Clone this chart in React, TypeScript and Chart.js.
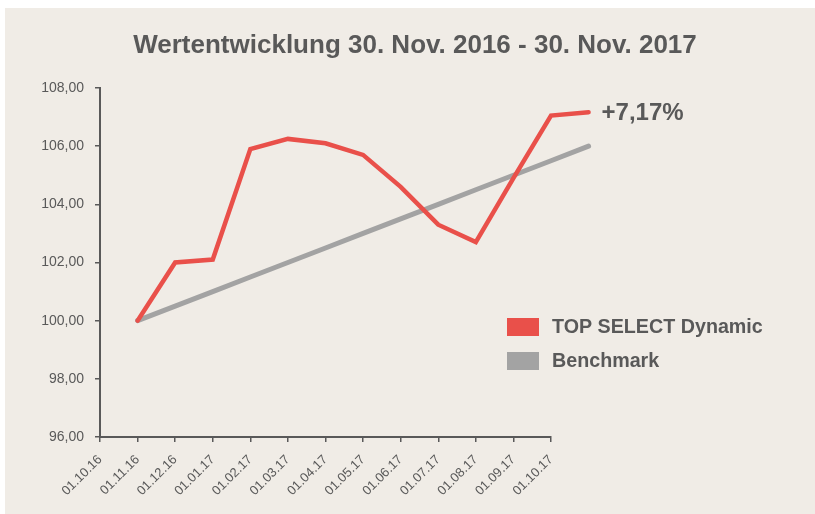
import React, { useEffect, useRef } from "react";
import { Chart, registerables } from "chart.js";

Chart.register(...registerables);

const chartTitle = "Wertentwicklung 30. Nov. 2016 - 30. Nov. 2017";
const tickLabels = [
  "01.10.16", "01.11.16", "01.12.16", "01.01.17", "01.02.17", "01.03.17", "01.04.17",
  "01.05.17", "01.06.17", "01.07.17", "01.08.17", "01.09.17", "01.10.17",
];
// x positions (months after 01.10.16)
const pointPositions = [1, 2, 3, 4, 5, 6, 7, 8, 9, 10, 11, 12, 13];
const dynamicValues = [100.0, 102.0, 102.1, 105.9, 106.25, 106.1, 105.7, 104.6, 103.3, 102.7, 104.9, 107.05, 107.17];
const benchmarkValues = [100.0, 100.5, 101.0, 101.5, 102.0, 102.5, 103.0, 103.5, 104.0, 104.5, 105.0, 105.5, 106.0];
const seriesNames = ["TOP SELECT Dynamic", "Benchmark"];
const endLabel = "+7,17%";
const yMin = 96;
const yMax = 108;
const yStep = 2;

const RED = "#E9504A";
const GRAY = "#A3A3A3";
const TEXT = "#595959";
const BG = "#F0ECE6";
const FONT = "'Liberation Sans', Arial, sans-serif";

export default function App() {
  const ref = useRef<HTMLCanvasElement | null>(null);

  useEffect(() => {
    const canvas = ref.current;
    if (!canvas) return;

    const overlay = {
      id: "overlay",
      afterDraw(chart: any) {
        const ctx = chart.ctx;
        ctx.save();
        // title
        ctx.fillStyle = TEXT;
        ctx.font = `bold 26px ${FONT}`;
        ctx.textAlign = "center";
        ctx.textBaseline = "middle";
        ctx.fillText(chartTitle, 410, 38);

        // end label next to last point
        const meta = chart.getDatasetMeta(0);
        const last = meta.data[meta.data.length - 1];
        ctx.font = `bold 24px ${FONT}`;
        ctx.textAlign = "left";
        ctx.fillText(endLabel, last.x + 13, last.y + 1);

        // legend
        const colors = [RED, GRAY];
        const ys = [319, 353];
        ctx.font = `bold 19.7px ${FONT}`;
        seriesNames.forEach((name, i) => {
          ctx.fillStyle = colors[i];
          ctx.fillRect(502, ys[i] - 9, 32, 18);
          ctx.fillStyle = TEXT;
          ctx.fillText(name, 547, ys[i] + 1);
        });
        ctx.restore();
      },
    };

    const chart = new Chart(canvas, {
      type: "line",
      data: {
        datasets: [
          {
            label: seriesNames[0],
            data: pointPositions.map((x, i) => ({ x, y: dynamicValues[i] })),
            borderColor: RED,
            backgroundColor: RED,
            borderWidth: 4.5,
            pointRadius: 0,
            borderCapStyle: "round",
            borderJoinStyle: "miter",
            clip: false as any,
            tension: 0,
          },
          {
            label: seriesNames[1],
            data: pointPositions.map((x, i) => ({ x, y: benchmarkValues[i] })),
            borderColor: GRAY,
            backgroundColor: GRAY,
            borderWidth: 5,
            pointRadius: 0,
            borderCapStyle: "round",
            clip: false as any,
            tension: 0,
          },
        ],
      },
      options: {
        animation: false,
        responsive: false,
        layout: { padding: { top: 80, right: 264, left: 0, bottom: 0 } },
        plugins: {
          legend: { display: false },
          title: { display: false },
          tooltip: { enabled: false },
        },
        scales: {
          x: {
            type: "linear",
            afterDataLimits: (s: any) => {
              s.min = 0;
              s.max = tickLabels.length - 1;
            },
            afterFit: (s: any) => { s.height = 77; },
            afterBuildTicks: (s: any) => {
              s.ticks = tickLabels.map((_, i) => ({ value: i }));
              s.min = 0;
              s.max = tickLabels.length - 1;
            },
            ticks: {
              stepSize: 1,
              autoSkip: false,
              maxRotation: 45,
              minRotation: 45,
              padding: 10,
              color: TEXT,
              font: { family: FONT, size: 13 },
              callback: (v: any) => tickLabels[Math.round(Number(v))] ?? "",
            },
            grid: {
              display: true,
              drawOnChartArea: false,
              drawTicks: true,
              tickLength: 5,
              color: TEXT,
              lineWidth: 1.5,
            },
            border: { display: true, color: TEXT, width: 2 },
          },
          y: {
            min: yMin,
            max: yMax,
            afterFit: (s: any) => { s.width = 95; },
            ticks: {
              stepSize: yStep,
              padding: 11,
              color: TEXT,
              font: { family: FONT, size: 14 },
              callback: (v: any) => Number(v).toFixed(2).replace(".", ","),
            },
            grid: {
              display: true,
              drawOnChartArea: false,
              drawTicks: true,
              tickLength: 5,
              color: TEXT,
              lineWidth: 1.5,
            },
            border: { display: true, color: TEXT, width: 2 },
          },
        },
      },
      plugins: [overlay],
    });

    return () => chart.destroy();
  }, []);

  return (
    <div style={{ position: "absolute", left: 5, top: 8, width: 810, height: 506, background: BG }}>
      <canvas ref={ref} width={810} height={506} style={{ display: "block", width: 810, height: 506 }} />
    </div>
  );
}
